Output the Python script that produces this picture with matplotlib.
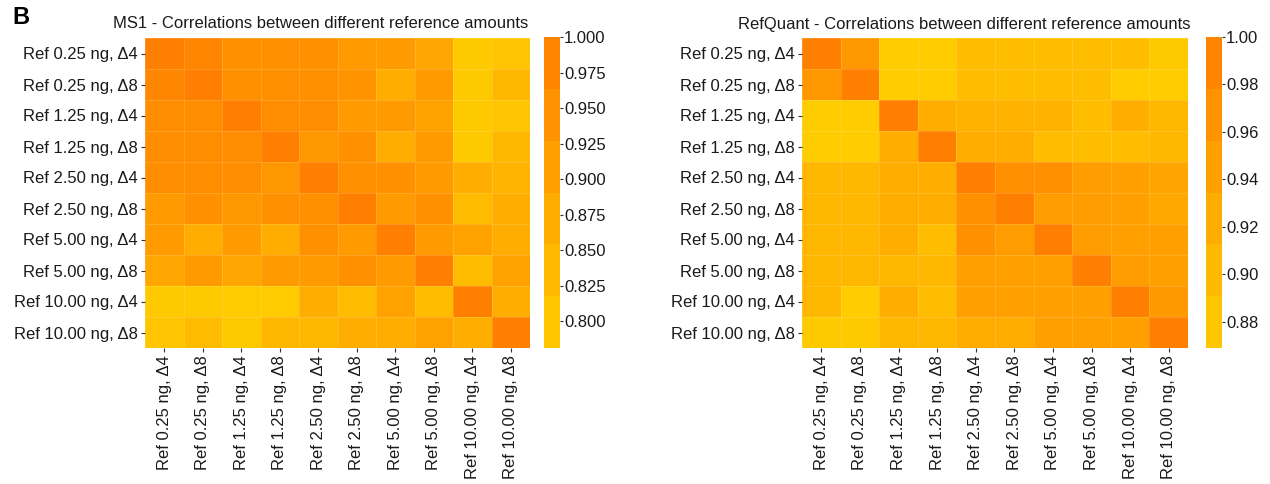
import numpy as np
import matplotlib
matplotlib.use('Agg')
import matplotlib.pyplot as plt
from matplotlib.colors import LinearSegmentedColormap

plt.rcParams['font.family'] = ['Liberation Sans', 'DejaVu Sans']

# sample labels (same for rows and columns)
labels = ['Ref 0.25 ng, Δ4', 'Ref 0.25 ng, Δ8', 'Ref 1.25 ng, Δ4', 'Ref 1.25 ng, Δ8',
          'Ref 2.50 ng, Δ4', 'Ref 2.50 ng, Δ8', 'Ref 5.00 ng, Δ4', 'Ref 5.00 ng, Δ8',
          'Ref 10.00 ng, Δ4', 'Ref 10.00 ng, Δ8']

# MS1 correlations (rows top to bottom)
ms1_corr = [
    [1.00, 0.98, 0.95, 0.95, 0.95, 0.92, 0.92, 0.89, 0.79, 0.80],
    [0.98, 1.00, 0.95, 0.95, 0.95, 0.94, 0.87, 0.92, 0.79, 0.84],
    [0.96, 0.96, 1.00, 0.96, 0.96, 0.92, 0.92, 0.90, 0.79, 0.80],
    [0.96, 0.96, 0.96, 1.00, 0.93, 0.95, 0.87, 0.92, 0.79, 0.84],
    [0.96, 0.96, 0.96, 0.93, 1.00, 0.95, 0.95, 0.92, 0.87, 0.85],
    [0.92, 0.95, 0.93, 0.95, 0.95, 1.00, 0.92, 0.95, 0.83, 0.87],
    [0.92, 0.87, 0.92, 0.87, 0.95, 0.92, 1.00, 0.92, 0.90, 0.87],
    [0.89, 0.92, 0.89, 0.92, 0.92, 0.95, 0.92, 1.00, 0.83, 0.90],
    [0.79, 0.79, 0.785, 0.785, 0.87, 0.83, 0.90, 0.83, 1.00, 0.87],
    [0.80, 0.83, 0.79, 0.84, 0.84, 0.87, 0.87, 0.90, 0.87, 1.00],
]

# RefQuant correlations
refquant_corr = [
    [1.00, 0.96, 0.87, 0.87, 0.895, 0.895, 0.895, 0.895, 0.895, 0.875],
    [0.96, 1.00, 0.87, 0.87, 0.895, 0.895, 0.895, 0.895, 0.87, 0.87],
    [0.87, 0.87, 1.00, 0.92, 0.915, 0.915, 0.915, 0.895, 0.92, 0.905],
    [0.87, 0.87, 0.92, 1.00, 0.92, 0.92, 0.895, 0.895, 0.895, 0.905],
    [0.905, 0.905, 0.92, 0.92, 1.00, 0.97, 0.97, 0.95, 0.945, 0.935],
    [0.905, 0.905, 0.92, 0.92, 0.97, 1.00, 0.95, 0.95, 0.945, 0.93],
    [0.905, 0.905, 0.92, 0.895, 0.97, 0.95, 1.00, 0.95, 0.945, 0.945],
    [0.905, 0.905, 0.905, 0.905, 0.945, 0.945, 0.945, 1.00, 0.95, 0.945],
    [0.905, 0.87, 0.92, 0.895, 0.945, 0.945, 0.945, 0.945, 1.00, 0.955],
    [0.875, 0.875, 0.905, 0.905, 0.925, 0.925, 0.945, 0.945, 0.945, 1.00],
]

ms1_ticks = [0.800, 0.825, 0.850, 0.875, 0.900, 0.925, 0.950, 0.975, 1.000]
refquant_ticks = [0.88, 0.90, 0.92, 0.94, 0.96, 0.98, 1.00]

cmap = LinearSegmentedColormap.from_list('yo', ['#FFCC00', '#FF7F00'])
text_col = '#1a1a1a'
fs = 12


def draw_heatmap(fig, ax_rect, cax_rect, data, vmin, vmax, ticks, fmt, title, title_x):
    ax = fig.add_axes(ax_rect)
    cax = fig.add_axes(cax_rect)
    data = np.array(data)
    mesh = ax.pcolormesh(data, cmap=cmap, vmin=vmin, vmax=vmax,
                         edgecolors=(1, 1, 1, 0.15), linewidth=0.5)
    ax.set_xlim(0, data.shape[1])
    ax.set_ylim(data.shape[0], 0)
    ax.set_xticks(np.arange(len(labels)) + 0.5)
    ax.set_yticks(np.arange(len(labels)) + 0.5)
    ax.set_xticklabels(labels, rotation=90, fontsize=fs, color=text_col)
    ax.set_yticklabels(labels, fontsize=fs, color=text_col)
    ax.tick_params(length=3, width=0.8, color='#333333', pad=2)
    for s in ax.spines.values():
        s.set_visible(False)

    # colorbar drawn in coarse steps like the original
    cb = fig.colorbar(mesh, cax=cax, boundaries=np.linspace(vmin, vmax, 7))
    cb.outline.set_visible(False)
    cb.set_ticks(ticks)
    cb.set_ticklabels([fmt % t for t in ticks])
    cax.tick_params(length=2, width=0.8, color='#333333', labelsize=fs,
                    labelcolor=text_col, pad=1)

    fig.text(title_x, 1 - 24 / 484, title, ha='center', va='center',
             fontsize=fs, color=text_col)
    return ax


W, H = 1270, 484
fig = plt.figure(figsize=(W / 100, H / 100), dpi=100)


def rect(x0, y0, x1, y1):
    return [x0 / W, 1 - y1 / H, (x1 - x0) / W, (y1 - y0) / H]


draw_heatmap(fig, rect(145, 38, 530, 348), rect(544, 37, 560, 348),
             ms1_corr, 0.781, 1.0, ms1_ticks, '%.3f',
             'MS1 - Correlations between different reference amounts', 321 / W)
draw_heatmap(fig, rect(802, 38, 1188, 348), rect(1206, 37, 1222, 348),
             refquant_corr, 0.869, 1.0, refquant_ticks, '%.2f',
             'RefQuant - Correlations between different reference amounts', 964 / W)

fig.text(12 / W, 1 - 18 / H, 'B', fontsize=17, fontweight='bold', va='center', ha='left')

fig.savefig('out.png', dpi=100)
